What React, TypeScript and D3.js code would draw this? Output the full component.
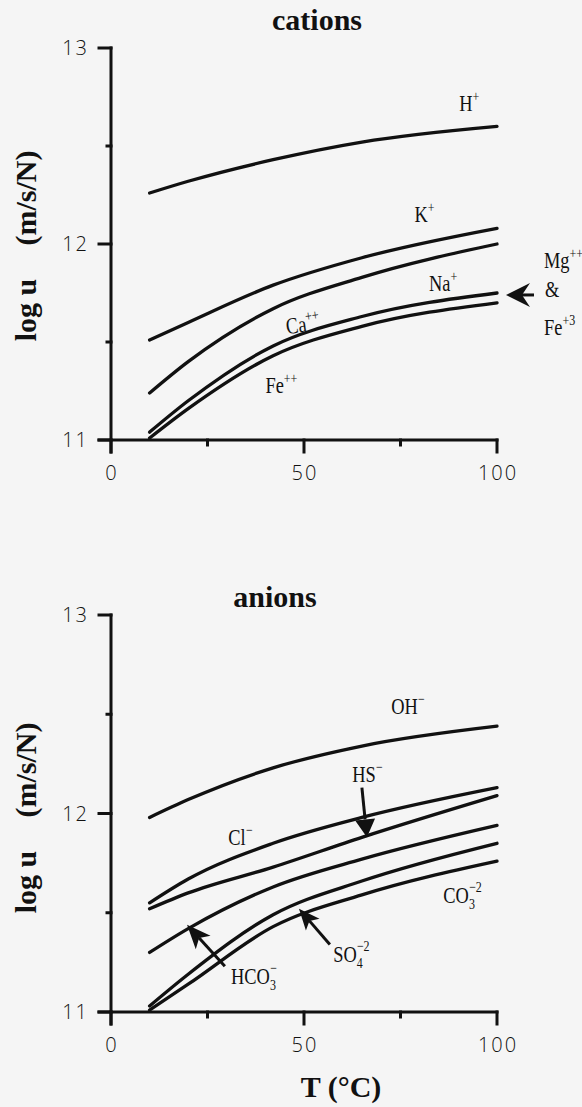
import React from "react";
import * as d3 from "d3";

// Temperatures (°C) at which the mobilities are tabulated
const temperatures = [10, 20, 42, 65, 100];

// Cation mobilities, log u (m/s/N)
const hydrogen = [12.26, 12.32, 12.43, 12.52, 12.6];
const potassium = [11.51, 11.6, 11.79, 11.93, 12.08];
const sodium = [11.24, 11.4, 11.67, 11.83, 12.0];
const calcium = [11.04, 11.2, 11.48, 11.63, 11.75];
const ferrous = [11.01, 11.16, 11.43, 11.58, 11.7];

// Anion mobilities, log u (m/s/N)
const hydroxide = [11.98, 12.07, 12.23, 12.34, 12.44];
const chloride = [11.55, 11.67, 11.85, 11.98, 12.13];
const bisulfide = [11.52, 11.6, 11.73, 11.88, 12.09];
const bicarbonate = [11.3, 11.42, 11.63, 11.77, 11.94];
const sulfate = [11.03, 11.19, 11.49, 11.66, 11.85];
const carbonate = [11.01, 11.14, 11.43, 11.59, 11.76];

const cationSeries = [hydrogen, potassium, sodium, calcium, ferrous];
const anionSeries = [hydroxide, chloride, bisulfide, bicarbonate, sulfate, carbonate];

const xTicks = [0, 50, 100];
const xMinorTicks = [25, 75];
const yTicks = [11, 12, 13];
const yMinorTicks = [11.5, 12.5];

const W = 582;
const H = 1107;
const INK = "#111";
const SERIF = "'Liberation Serif', 'Times New Roman', serif";
const SANS = "'Open Sans', 'DejaVu Sans', sans-serif";

const xScale = d3.scaleLinear().domain([0, 100]).range([111, 497]);
const yTop = d3.scaleLinear().domain([11, 13]).range([440, 48]);
const yBottom = d3.scaleLinear().domain([11, 13]).range([1012, 615]);

type Scale = d3.ScaleLinear<number, number>;

function Axes({ y }: { y: Scale }) {
  const x = xScale;
  const x0 = x(0);
  const y0 = y(11);
  return (
    <g>
      <g stroke={INK} strokeWidth={3} fill="none" strokeLinecap="square">
        <line x1={x0} y1={y(13)} x2={x0} y2={y0 + 12} />
        <line x1={x0 - 12} y1={y0} x2={x(100)} y2={y0} />
        {yTicks.map((t) => (
          <line key={"y" + t} x1={x0 - 12} x2={x0} y1={y(t)} y2={y(t)} />
        ))}
        {yMinorTicks.map((t) => (
          <line key={"ym" + t} x1={x0 - 4} x2={x0} y1={y(t)} y2={y(t)} />
        ))}
        {xTicks.map((t) => (
          <line key={"x" + t} x1={x(t)} x2={x(t)} y1={y0} y2={y0 + 12} />
        ))}
        {xMinorTicks.map((t) => (
          <line key={"xm" + t} x1={x(t)} x2={x(t)} y1={y0} y2={y0 + 5} />
        ))}
      </g>
      <g fontFamily={SANS} fontWeight={300} fontSize={20} fill={INK} letterSpacing={2}>
        {yTicks.map((t) => (
          <text key={"yl" + t} x={x0 - 22} y={y(t)} dy="0.36em" textAnchor="end">
            {t}
          </text>
        ))}
        {xTicks.map((t) => (
          <text key={"xl" + t} x={x(t) + 1} y={y0 + 33} dy="0.36em" textAnchor="middle">
            {t}
          </text>
        ))}
      </g>
    </g>
  );
}

function Curves({ y, series }: { y: Scale; series: number[][] }) {
  const line = d3
    .line<number>()
    .x((_, i) => xScale(temperatures[i]))
    .y((d) => y(d))
    .curve(d3.curveMonotoneX);
  return (
    <g fill="none" stroke={INK} strokeWidth={3.3} strokeLinejoin="round" strokeLinecap="round">
      {series.map((s, i) => (
        <path key={i} d={line(s) || ""} />
      ))}
    </g>
  );
}

function YLabel({ y }: { y: Scale }) {
  const a = y(11) - 130;
  const b = y(11) - 242;
  return (
    <g fontFamily={SERIF} fontWeight="bold" fontSize={30} fill={INK} textAnchor="middle">
      <text transform={`translate(36,${a}) rotate(-90)`}>log u</text>
      <text transform={`translate(36,${b}) rotate(-90)`}>(m/s/N)</text>
    </g>
  );
}

type IonProps = {
  x: number;
  y: number;
  base: string;
  sup?: string;
  sub?: string;
  rot?: number;
};

// Ion name with optional subscript and charge superscript stacked above it
function Ion({ x, y, base, sup, sub, rot = 0 }: IonProps) {
  const subW = sub ? sub.length * 7.5 : 0;
  return (
    <text
      transform={`translate(${x},${y}) rotate(${rot}) scale(0.8,1)`}
      fontFamily={SERIF}
      fontSize={23}
      fill={INK}
    >
      {base}
      {sub && (
        <tspan fontSize={15} dy={6}>
          {sub}
        </tspan>
      )}
      {sup && (
        <tspan fontSize={15} dx={sub ? -subW : 0} dy={sub ? -17 : -10}>
          {sup}
        </tspan>
      )}
    </text>
  );
}

// Straight arrow with a filled (optionally notched) head at the tip
function Arrow({
  x1,
  y1,
  x2,
  y2,
  len,
  half,
  notch,
}: {
  x1: number;
  y1: number;
  x2: number;
  y2: number;
  len: number;
  half: number;
  notch: number;
}) {
  const dx = x2 - x1;
  const dy = y2 - y1;
  const d = Math.hypot(dx, dy);
  const ux = dx / d;
  const uy = dy / d;
  const nx = -uy;
  const ny = ux;
  const bx = x2 - ux * len;
  const by = y2 - uy * len;
  const cx = x2 - ux * (len - notch);
  const cy = y2 - uy * (len - notch);
  const head = [
    [x2, y2],
    [bx + nx * half, by + ny * half],
    [cx, cy],
    [bx - nx * half, by - ny * half],
  ];
  return (
    <g>
      <line x1={x1} y1={y1} x2={cx} y2={cy} stroke={INK} strokeWidth={3} />
      <path d={"M" + head.map((p) => p.join(",")).join("L") + "Z"} fill={INK} />
    </g>
  );
}

export default function App() {
  const x = xScale;
  const yt = yTop;
  const yb = yBottom;
  return (
    <svg
      width={W}
      height={H}
      viewBox={`0 0 ${W} ${H}`}
      style={{ position: "absolute", left: 0, top: 0, display: "block" }}
    >
      <rect width={W} height={H} fill="#f5f5f5" />

      {/* cations */}
      <text x={317} y={30} textAnchor="middle" fontFamily={SERIF} fontWeight="bold" fontSize={30} fill={INK}>
        cations
      </text>
      <Axes y={yt} />
      <Curves y={yt} series={cationSeries} />
      <YLabel y={yt} />
      <Ion x={x(90.2)} y={yt(12.68)} base="H" sup="+" />
      <Ion x={x(78.6)} y={yt(12.11)} base="K" sup="+" />
      <Ion x={x(82.4)} y={yt(11.76)} base="Na" sup="+" />
      <Ion x={x(45.6)} y={yt(11.54)} base="Ca" sup="++" rot={-8} />
      <Ion x={x(40)} y={yt(11.24)} base="Fe" sup="++" />
      <Ion x={544} y={268} base="Mg" sup="++" />
      <Ion x={545} y={297} base="&" />
      <Ion x={544} y={335} base="Fe" sup="+3" />
      <Arrow x1={534} y1={yt(11.74)} x2={506} y2={yt(11.74)} len={24} half={12} notch={8} />

      {/* anions */}
      <text x={275} y={607} textAnchor="middle" fontFamily={SERIF} fontWeight="bold" fontSize={30} fill={INK}>
        anions
      </text>
      <Axes y={yb} />
      <Curves y={yb} series={anionSeries} />
      <YLabel y={yb} />
      <Ion x={x(72.6)} y={yb(12.5)} base="OH" sup="−" />
      <Ion x={x(62.5)} y={yb(12.16)} base="HS" sup="−" />
      <Arrow x1={x(65)} y1={yb(12.13)} x2={x(66.3)} y2={yb(11.88)} len={18} half={10} notch={0} />
      <Ion x={x(30.4)} y={yb(11.84)} base="Cl" sup="−" />
      <Ion x={x(31.1)} y={yb(11.14)} base="HCO" sub="3" sup="−" />
      <Arrow x1={x(29.5)} y1={yb(11.23)} x2={x(19.7)} y2={yb(11.44)} len={24} half={10} notch={6} />
      <Ion x={x(57.6)} y={yb(11.25)} base="SO" sub="4" sup="−2" />
      <Arrow x1={x(56.7)} y1={yb(11.34)} x2={x(48.7)} y2={yb(11.52)} len={21} half={9} notch={5} />
      <Ion x={x(86.1)} y={yb(11.55)} base="CO" sub="3" sup="−2" />

      <text x={341} y={1097} textAnchor="middle" fontFamily={SERIF} fontWeight="bold" fontSize={30} fill={INK}>
        T (°C)
      </text>
    </svg>
  );
}
